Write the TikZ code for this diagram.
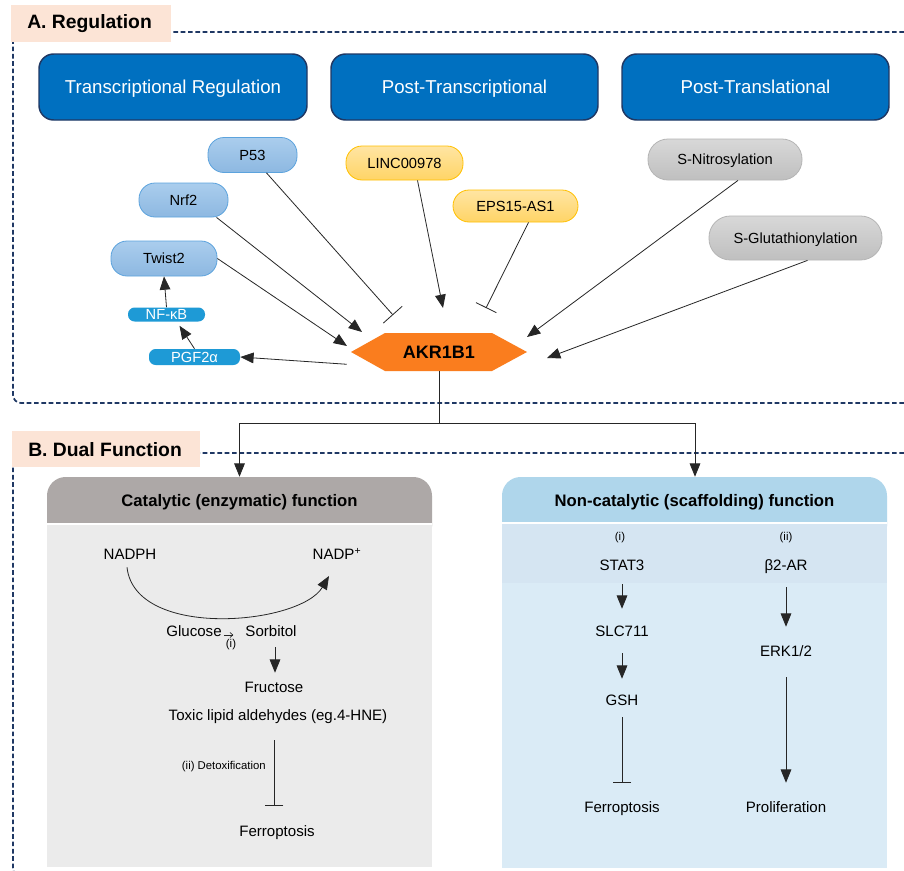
\documentclass[tikz,border=0pt]{standalone}
\usepackage{fontspec}
\setmainfont{Liberation Sans}
\usetikzlibrary{arrows.meta,calc}
\definecolor{framec}{HTML}{1F3864}
\definecolor{peach}{HTML}{FCE4D6}
\definecolor{hdrblue}{HTML}{0070C0}
\definecolor{hdrborder}{HTML}{1F3864}
\definecolor{bluetop}{HTML}{AACDED}
\definecolor{bluebot}{HTML}{8DB8E1}
\definecolor{blueedge}{HTML}{5CA3DD}
\definecolor{yeltop}{HTML}{FFE5A3}
\definecolor{yelbot}{HTML}{FFD466}
\definecolor{yeledge}{HTML}{FFC000}
\definecolor{gratop}{HTML}{D8D8D8}
\definecolor{grabot}{HTML}{BFBFBF}
\definecolor{graedge}{HTML}{B5B5B5}
\definecolor{smallblue}{HTML}{1E9AD6}
\definecolor{akrorange}{HTML}{FA7D1E}
\definecolor{cathead}{HTML}{ADA8A7}
\definecolor{catbody}{HTML}{EBEBEB}
\definecolor{nchead}{HTML}{AFD6EB}
\definecolor{nctop}{HTML}{D5E5F2}
\definecolor{ncbody}{HTML}{DAEBF6}
\definecolor{linec}{HTML}{262626}
\begin{document}
\begin{tikzpicture}[x=0.75pt,y=-0.75pt,
 sz/.style 2 args={minimum width=#1*0.75pt,minimum height=#2*0.75pt},
 hdr/.style={draw=hdrborder,line width=1.1pt,fill=hdrblue,rounded corners=11pt,text=white,font=\fontsize{14}{16}\selectfont,inner sep=0pt,text height=10pt,text depth=0pt},
 pill/.style={draw=#1edge,line width=0.6pt,top color=#1top,bottom color=#1bot,rounded corners=12pt,inner sep=0pt,font=\fontsize{11}{13}\selectfont,text height=8pt,text depth=0pt},
 mini/.style={fill=smallblue,rounded corners=5pt,inner sep=0pt,text=white,font=\fontsize{11}{13}\selectfont,text height=8pt,text depth=0pt},
 act/.style={draw=linec,line width=0.6pt,-{Triangle[length=10pt,width=8pt]}},
 inh/.style={draw=linec,line width=0.6pt,-{Bar[width=#1]}},
 inh/.default=18pt,
 conn/.style={draw=linec,line width=0.6pt},
 frame/.style={draw=framec,line width=1.3pt,dash pattern=on 3.5pt off 2pt,rounded corners=6pt},
 body/.style={inner sep=0pt,text height=8pt,text depth=2.5pt,font=\fontsize{11.3}{13}\selectfont},
 small/.style={inner sep=0pt,font=\fontsize{8.5}{10}\selectfont},
 ttl/.style={inner sep=0pt,font=\bfseries\fontsize{12.5}{14}\selectfont,text height=9pt,text depth=0pt},
 seclbl/.style={inner sep=0pt,font=\bfseries\fontsize{14.5}{16}\selectfont},
 ghost/.style={inner sep=0pt,draw=none}
]
\useasboundingbox (0,0) rectangle (904,871);
\fill[white] (0,0) rectangle (904,871);

% ---------- frames ----------
\draw[frame] (904,32) -- (13,32) -- (13,403) -- (904,403);
\draw[frame] (904,453) -- (13,453) -- (13,876) -- (60,876);
\fill[peach] (11,5) rectangle (171,42);
\node[seclbl,anchor=west] (secA) at (27,24) {A. Regulation};
\fill[peach] (12,431) rectangle (200,467);
\node[seclbl,anchor=west] (secB) at (28,450) {B. Dual Function};

% ---------- headers ----------
\node[hdr,sz={268}{66}] (tr) at (173,87) {Transcriptional Regulation};
\node[hdr,sz={267}{66}] (ptc) at (464.5,87) {Post-Transcriptional};
\node[hdr,sz={267}{66}] (ptl) at (755.5,87) {Post-Translational};

% ---------- regulators ----------
\node[pill=blue,sz={89}{35}] (p53) at (252.5,155) {P53};
\node[pill=blue,sz={89}{34}] (nrf2) at (183.5,200) {Nrf2};
\node[pill=blue,sz={106}{35}] (twist2) at (164,258.5) {Twist2};
\node[mini,sz={77}{14}] (nfkb) at (166.5,314.5) {NF-κB};
\node[mini,sz={91}{16}] (pgf) at (194.5,357) {PGF2α};
\node[pill=yel,sz={117}{34}] (linc) at (404.5,163) {LINC00978};
\node[pill=yel,sz={125}{32}] (eps) at (515.5,206) {EPS15-AS1};
\node[pill=gra,sz={154}{41},rounded corners=15pt] (snit) at (725,159.5) {S-Nitrosylation};
\node[pill=gra,sz={173}{44},rounded corners=16pt] (sglu) at (795.5,238) {S-Glutathionylation};

% ---------- AKR1B1 ----------
\fill[akrorange] (351,352) -- (385,333) -- (492,333) -- (527,352) -- (492,371) -- (385,371) -- cycle;
\node[ghost,sz={176}{38},font=\bfseries\fontsize{13.5}{15}\selectfont,text height=9.8pt,text depth=0pt] (akr) at (439,352) {AKR1B1};

\coordinate (tp53) at (393,315);
\coordinate (tnrf2) at (362,332);
\coordinate (ttw) at (347,346);
\coordinate (tlinc) at (443,308);
\coordinate (teps) at (486,308);
\coordinate (tsn) at (527,337);
\coordinate (tsg) at (547,358);
\draw[inh=19pt] ($(p53.south)+(14,0)$) -- (tp53);
\draw[act] ($(nrf2.south)+(33,0)$) -- (tnrf2);
\draw[act] (twist2.east) -- (ttw);
\draw[act] ($(linc.south)+(13,0)$) -- (tlinc);
\draw[inh=17pt] ($(eps.south)+(13,0)$) -- (teps);
\draw[act] ($(snit.south)+(13,0)$) -- (tsn);
\draw[act] ($(sglu.south)+(12,0)$) -- (tsg);
\draw[act] ($(akr.south west)+(-4,-7)$) -- (pgf.east);
\draw[act] (pgf.north) -- ($(nfkb.south)+(13,4)$);
\draw[act] (nfkb.north) -- (twist2.south);

% ---------- boxes B ----------
\fill[cathead,rounded corners=14pt] (47,477) rectangle (432,545);
\fill[white] (47,523) rectangle (432,525);
\fill[catbody] (47,525) rectangle (432,867);
\fill[nchead,rounded corners=14pt] (502,477) rectangle (887,545);
\fill[white] (502,522) rectangle (887,523.5);
\fill[nctop] (502,523.5) rectangle (887,583);
\fill[ncbody] (502,583) rectangle (887,868);
\node[ghost,sz={385}{391}] (cat) at (239.5,672.5) {};
\node[ghost,sz={385}{391}] (ncat) at (695,672.5) {};

\coordinate (jn) at (439,423);
\draw[conn] (akr.south) -- (jn);
\draw[act] (jn) -| (cat.north);
\draw[act] (jn) -| (ncat.north);

% ---------- catalytic ----------
\node[ttl] (catt) at (239.5,500) {Catalytic (enzymatic) function};
\node[body] (nadph) at (130,556) {NADPH};
\node[body] (nadp) at (337,556) {NADP\textsuperscript{+}};
\coordinate (tnadp) at (329,576);
\draw[act] ($(nadph.south)+(-3,4)$) .. controls (135,640) and (300,625) .. (tnadp);
\node[body] (glu) at (194,633) {Glucose};
\node[body] (sor) at (271,633) {Sorbitol};
\draw[draw=linec,line width=0.5pt,-{To[length=2.5pt,width=4pt]}] ($(glu.east)+(2,2)$) -- ($(sor.west)+(-12,2)$);
\node[small] (gi) at (231,645) {(i)};
\node[body] (fru) at (274,689) {Fructose};
\draw[act] ($(sor.south)+(4,7)$) -- ($(fru.north)+(1,-9)$);
\node[body] (tox) at (278,717) {Toxic lipid aldehydes (eg.4-HNE)};
\node[body] (fer1) at (277,833) {Ferroptosis};
\draw[inh=14pt] ($(tox.south)+(-4,16)$) -- ($(fer1.north)+(-3,-20)$);
\node[small,anchor=east] (detox) at (266,767) {(ii) Detoxification};

% ---------- non-catalytic ----------
\node[ttl] (nct) at (694.5,500) {Non-catalytic (scaffolding) function};
\node[small] (ni) at (620,538) {(i)};
\node[small] (nii) at (786,538) {(ii)};
\node[body] (stat3) at (622,567) {STAT3};
\node[body] (b2ar) at (786,567) {β2-AR};
\node[body] (slc) at (622,633) {SLC711};
\node[body] (erk) at (786,653) {ERK1/2};
\node[body] (gsh) at (622,702) {GSH};
\node[body] (fer2) at (622,809) {Ferroptosis};
\node[body] (prol) at (786,809) {Proliferation};
\draw[act,shorten <=7.5pt,shorten >=12.75pt] (stat3) -- (slc);
\draw[act,shorten <=9.75pt,shorten >=12pt] (slc) -- (gsh);
\draw[inh=13.5pt,shorten <=6pt,shorten >=14.25pt] (gsh) -- (fer2);
\draw[act,shorten <=9.75pt,shorten >=14.25pt] (b2ar) -- (erk);
\draw[act,shorten <=12.75pt,shorten >=14.25pt] (erk) -- (prol);
\end{tikzpicture}
\end{document}
